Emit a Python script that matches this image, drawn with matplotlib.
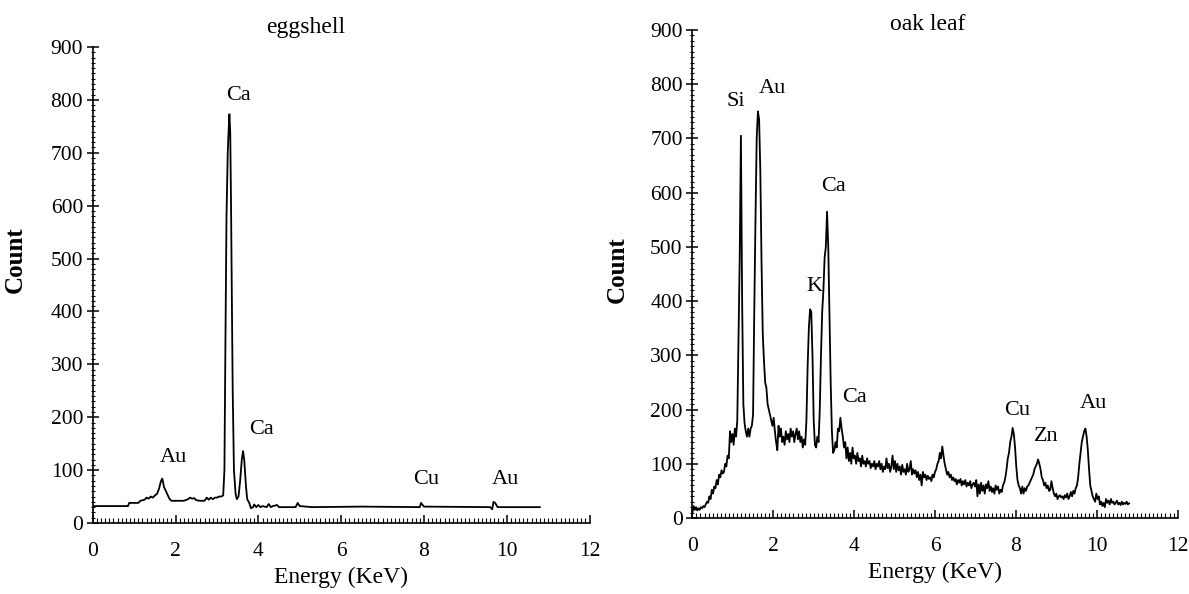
import numpy as np
import matplotlib
matplotlib.use("Agg")
import matplotlib.pyplot as plt
from matplotlib.ticker import MultipleLocator

plt.rcParams['font.family'] = ['Liberation Serif', 'DejaVu Serif']

# ---------------- data ----------------
egg_energy = [0.0, 0.85, 0.88, 1.1, 1.15, 1.25, 1.3, 1.35, 1.4, 1.45, 1.5, 1.55, 1.6, 1.65, 1.68,
              1.72, 1.78, 1.85, 1.9, 2.0, 2.2, 2.3, 2.35, 2.4, 2.45, 2.5, 2.6, 2.7, 2.75, 2.8,
              2.85, 2.9, 2.95, 3.0, 3.05, 3.1, 3.15, 3.18, 3.2, 3.23, 3.26, 3.28, 3.30, 3.32,
              3.34, 3.36, 3.38, 3.41, 3.45, 3.48, 3.52, 3.56, 3.60, 3.63, 3.66, 3.70, 3.73,
              3.78, 3.82, 3.87, 3.9, 3.95, 4.0, 4.05, 4.1, 4.2, 4.25, 4.3, 4.35, 4.45, 4.5,
              4.9, 4.95, 5.0, 5.3, 6.5, 7.9, 7.93, 8.0, 9.6, 9.65, 9.68, 9.72, 9.78, 10.0, 10.8]
egg_count = [32, 32, 38, 38, 42, 44, 48, 46, 50, 48, 52, 55, 65, 80, 84,
             68, 58, 46, 42, 42, 42, 45, 48, 46, 47, 43, 42, 42, 48, 44,
             48, 45, 48, 48, 50, 50, 52, 100, 300, 580, 700, 740, 773, 740,
             600, 420, 250, 100, 55, 45, 50, 80, 120, 136, 118, 70, 45,
             38, 28, 30, 35, 30, 34, 30, 32, 30, 36, 30, 32, 34, 30,
             30, 38, 32, 30, 31, 30, 38, 31, 30, 26, 40, 38, 30, 30, 30]

oak_energy = np.round(np.arange(0.0, 10.80 + 1e-9, 0.03), 2)
oak_count = [
    10, 22, 15, 20, 14, 18, 15, 20, 18, 22,
    20, 25, 30, 28, 40, 35, 52, 45, 58, 55,
    70, 62, 80, 75, 88, 82, 85, 100, 95, 115,
    110, 160, 140, 155, 135, 165, 150, 180, 330, 480,
    705, 400, 210, 175, 160, 150, 165, 150, 165, 170,
    190, 380, 550, 700, 750, 735, 640, 470, 340, 290,
    250, 240, 210, 200, 190, 180, 170, 185, 160, 140,
    125, 170, 150, 165, 140, 150, 135, 160, 145, 155,
    140, 165, 150, 160, 140, 155, 165, 145, 160, 140,
    150, 130, 145, 135, 180, 280, 350, 385, 380, 300,
    180, 135, 130, 150, 140, 200, 300, 380, 420, 480,
    500, 565, 500, 380, 250, 160, 120, 125, 140, 130,
    165, 160, 185, 165, 150, 130, 140, 110, 130, 105,
    120, 100, 130, 110, 115, 100, 120, 105, 110, 95,
    115, 100, 105, 95, 110, 100, 105, 92, 100, 95,
    105, 90, 100, 95, 105, 90, 100, 85, 95, 90,
    110, 92, 100, 85, 95, 115, 90, 105, 85, 100,
    88, 95, 80, 98, 85, 90, 80, 100, 85, 90,
    105, 80, 90, 82, 88, 75, 85, 70, 80, 60,
    85, 75, 80, 70, 78, 72, 75, 68, 80, 75,
    85, 90, 100, 105, 120, 110, 132, 115, 100, 90,
    80, 85, 75, 80, 70, 75, 68, 72, 62, 70,
    65, 72, 60, 68, 62, 70, 58, 65, 60, 68,
    55, 62, 65, 58, 70, 40, 62, 45, 65, 50,
    60, 45, 62, 55, 68, 50, 58, 48, 55, 45,
    60, 52, 58, 45, 52, 48, 60, 65, 75, 90,
    110, 120, 140, 150, 166, 155, 130, 95, 70, 60,
    55, 45, 58, 45, 55, 50, 58, 60, 65, 70,
    75, 80, 90, 95, 100, 108, 100, 90, 75, 70,
    60, 65, 55, 60, 50, 52, 68, 55, 45, 40,
    45, 35, 40, 42, 38, 40, 35, 42, 38, 45,
    35, 40, 48, 40, 50, 45, 55, 60, 75, 100,
    120, 140, 150, 160, 165, 150, 125, 90, 60, 50,
    40, 35, 30, 45, 35, 40, 25, 30, 22, 28,
    20, 35, 28, 32, 25, 35, 28, 30, 25, 28,
    32, 25, 28, 24, 30, 25, 28, 26, 30, 25,
    27]

egg_labels = ["Ca", "Au", "Ca", "Cu", "Au"]
egg_label_x = [3.52, 1.94, 4.08, 8.05, 9.97]
egg_label_y = [809, 124, 177, 83, 83]

oak_labels = ["Si", "Au", "Ca", "K", "Ca", "Cu", "Zn", "Au"]
oak_label_x = [1.07, 1.97, 3.49, 3.01, 4.01, 8.03, 8.76, 9.92]
oak_label_y = [769, 792, 611, 427, 222, 199, 150, 212]

# ---------------- figure ----------------
W, H = 1189, 594
fig = plt.figure(figsize=(W / 100, H / 100), dpi=100)

def px_axes(x0, x1, ytop, ybot):
    return fig.add_axes([x0 / W, 1 - ybot / H, (x1 - x0) / W, (ybot - ytop) / H])

ax1 = px_axes(92.8, 589.5, 47, 523)
ax2 = px_axes(692.4, 1177.6, 30, 518)

def style(ax, ylab_xy):
    ax.set_xlim(0, 12)
    ax.set_ylim(0, 900)
    ax.xaxis.set_major_locator(MultipleLocator(2))
    ax.xaxis.set_minor_locator(MultipleLocator(0.1))
    ax.yaxis.set_major_locator(MultipleLocator(100))
    ax.yaxis.set_minor_locator(MultipleLocator(10))
    for s in ['top', 'right']:
        ax.spines[s].set_visible(False)
    for s in ['left', 'bottom']:
        ax.spines[s].set_linewidth(1.2)
    ax.tick_params(axis='x', which='major', direction='in', length=6, width=1.1,
                   labelsize=15.5, pad=14)
    ax.tick_params(axis='x', which='minor', direction='in', length=3.5, width=0.8)
    ax.tick_params(axis='y', which='major', direction='inout', length=8, width=1.1,
                   labelsize=15.5, pad=3)
    ax.tick_params(axis='y', which='minor', direction='inout', length=3.5, width=0.8)
    ax.set_xlabel("Energy (KeV)", fontsize=17, labelpad=4)
    ax.set_ylabel("Count", fontsize=18, fontweight='bold')
    ax.yaxis.set_label_coords(*ylab_xy)

style(ax1, (-0.132, 0.553))
style(ax2, (-0.131, 0.508))

ax1.plot(egg_energy, egg_count, color='black', lw=1.3)
ax2.plot(oak_energy, oak_count, color='black', lw=1.3)

for t, x, y in zip(egg_labels, egg_label_x, egg_label_y):
    ax1.text(x, y, t, fontsize=16, ha='center', va='center')
for t, x, y in zip(oak_labels, oak_label_x, oak_label_y):
    ax2.text(x, y, t, fontsize=16, ha='center', va='center')

fig.text(305.4 / W, 1 - 27 / H, "eggshell", fontsize=17, ha='center', va='center')
fig.text(928 / W, 1 - 25 / H, "oak leaf", fontsize=17, ha='center', va='center')

fig.savefig("out.png", dpi=100)
